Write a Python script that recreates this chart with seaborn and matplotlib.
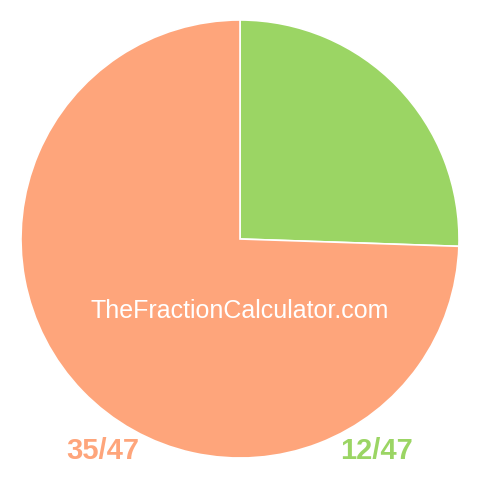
import matplotlib
matplotlib.use("Agg")
import matplotlib.pyplot as plt
import seaborn as sns

# fraction shown by the chart
labels = ["12/47", "35/47"]
values = [12, 35]
colors = ["#9bd564", "#fea57b"]
watermark = "TheFractionCalculator.com"

sns.set_theme(style="white")
plt.rcParams["font.family"] = ["Liberation Sans", "DejaVu Sans"]

fig = plt.figure(figsize=(4.8, 4.8), dpi=100)
ax = fig.add_axes([0, 0, 1, 1])

ax.pie(values, colors=colors, startangle=90, counterclock=False,
       center=(240, 241), radius=219, frame=True,
       wedgeprops={"edgecolor": "white", "linewidth": 1.2})
ax.set_xlim(0, 480)
ax.set_ylim(0, 480)
ax.set_aspect("equal")
ax.axis("off")

ax.text(240, 169, watermark, color="white", fontsize=18,
        ha="center", va="center")

ax.text(103, 29, labels[1], color=colors[1], fontsize=21,
        fontweight="bold", ha="center", va="center")
ax.text(376, 29, labels[0], color=colors[0], fontsize=21,
        fontweight="bold", ha="center", va="center")

fig.savefig("out.png", dpi=100, facecolor="white")
